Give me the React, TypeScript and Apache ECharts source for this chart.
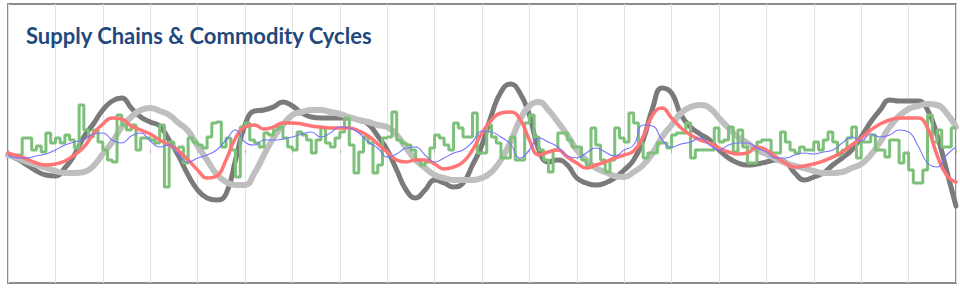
import React, { useEffect, useRef } from "react";
import * as echarts from "echarts";

// x positions: 0..200 units, smooth series sampled every 2 units, step series every 1 unit
const TITLE = "Supply Chains & Commodity Cycles";
const STEP_SMOOTH = 2;

const darkGray = [
  -5, -9, -15, -21, -25, -26, -18, -5, 13, 26, 40, 49, 52, 42, 33, 28, 24, 10, -6, -25,
  -40, -48, -50, -44, -10, 25, 39, 40, 43, 48, 44, 37, 33, 32, 32, 32, 32, 30, 26, 14,
  0, -20, -40, -48, -40, -30, -33, -37, -33, -15, 5, 35, 58, 66, 57, 35, 0, -12, -10, -15,
  -28, -33, -35, -33, -28, -20, -10, 10, 42, 62, 57, 35, 23, 16, 10, 0, -8, -13, -15, -14,
  -12, -10, -12, -23, -30, -27, -23, -15, -8, 0, 13, 28, 40, 50, 49, 49, 49, 40, 15, -20,
  -56,
];

const lightGray = [
  -5, -8, -12, -15, -18, -21, -23, -23, -22, -16, -4, 8, 23, 33, 40, 42, 39, 35, 27, 19,
  4, -10, -24, -32, -35, -35, -23, -5, 12, 25, 35, 38, 40, 40, 38, 36, 33, 30, 28, 25,
  23, 15, 2, -10, -18, -25, -28, -30, -30, -30, -28, -22, -10, 8, 30, 44, 48, 40, 28, 15,
  0, -10, -18, -22, -26, -27, -22, -15, -3, 13, 25, 37, 43, 45, 42, 32, 22, 13, 7, 0,
  -4, -9, -13, -16, -18, -21, -23, -23, -22, -18, -14, -5, 8, 23, 34, 41, 44, 46, 45, 37,
  23,
];

const redLine = [
  -3, -6, -9, -13, -15, -14, -11, -5, 3, 16, 26, 32, 31, 24, 20, 16, 10, 5, -1, -10,
  -20, -28, -26, -10, 12, 23, 25, 21, 23, 27, 27, 26, 24, 23, 22, 22, 22, 19, 14, 6,
  -2, -10, -12, -10, -10, -14, -19, -17, -12, 0, 17, 30, 37, 38, 31, 10, -5, -2, 0, -7,
  -13, -18, -15, -12, -8, -5, -1, 13, 35, 42, 32, 22, 15, 10, 7, 2, -2, -4, -3, 3,
  0, -7, -13, -17, -16, -14, -11, -7, -2, 5, 12, 20, 26, 30, 32, 32, 32, 22, -5, -25,
  -32,
];

const blueLine = [
  -5, -8, -8, -6, -4, 0, 5, 8, 10, 16, 17, 10, 7, 14, 17, 9, 3, 5, -5, -12,
  -8, -5, 0, 10, 20, 8, 5, 10, 10, 11, 13, 16, 18, 13, 17, 23, 22, 17, 8, 2,
  -7, -4, 2, 3, -5, -12, -8, -3, 0, 8, 19, 18, 13, 6, -8, 0, 12, 8, 3, -6,
  -8, -3, 2, -2, -6, 0, 5, 25, 24, 10, 3, 6, 8, 12, 5, 0, 5, 7, 7, 2,
  -2, -8, -8, -5, -3, -4, -2, 0, 7, 13, 9, 16, 13, 15, 20, 18, 4, -13, -17, -5,
  3,
];

const greenStep = [
  -5, -5, -5, 12, 12, 0, 4, -2, 17, 7, 12, 7, 15, 10, 2, 45, 20, 13, 20, 8,
  0, -10, -12, 35, 25, 20, 25, 0, 12, 12, 10, 7, 25, -37, 8, 0, 3, -13, 12, 8,
  5, 2, 13, 27, 28, 3, 12, 0, -27, 23, 27, 10, 7, 3, 17, 15, 20, 23, 12, 3,
  0, 18, 15, 10, -3, 10, 22, 7, 3, 12, 18, 32, 5, -23, -2, 13, 7, -23, -15, 12,
  13, 38, 10, 7, 5, 0, -10, -15, -12, 2, 15, 12, 5, 0, 27, 22, 13, 13, 37, -3,
  -3, 25, 13, 7, -8, -8, 13, -10, -10, 27, 35, 13, 0, -10, -22, 0, 17, 17, 10, 3,
  3, -10, -15, 22, 5, -10, -22, -10, 22, 12, 8, 37, 27, 7, -8, -3, -3, 7, 7, 2,
  15, 17, 17, 27, -8, 0, 0, 0, 0, 22, 8, 10, 23, -2, 20, 3, -13, -13, 8, 10,
  10, -3, -3, 18, 8, 0, -3, 3, 0, 0, 8, 0, 10, 18, 8, -5, 0, 12, 23, -8,
  8, 8, 15, 0, 0, -7, 10, 10, -13, -3, -20, -33, -33, -20, 35, 8, 20, 3, 3, 22,
];

const toXY = (arr: number[], step: number) => arr.map((v, i) => [i * step, v]);

export default function App() {
  const ref = useRef<HTMLDivElement>(null);
  useEffect(() => {
    if (!ref.current) return;
    const chart = echarts.init(ref.current, undefined, { renderer: "svg" });
    const greenData = toXY(greenStep, 1);
    greenData.push([greenStep.length, greenStep[greenStep.length - 1]]);
    chart.setOption({
      animation: false,
      backgroundColor: "#ffffff",
      title: {
        text: TITLE,
        left: 26,
        top: 24,
        padding: 0,
        textStyle: {
          fontFamily: "Lato",
          fontWeight: "bold",
          fontSize: 22,
          color: "#1F497D",
        },
      },
      grid: {
        left: 8,
        right: 4,
        top: 4,
        bottom: 5,
        show: true,
        borderColor: "#8c8c8c",
        borderWidth: 2,
        backgroundColor: "transparent",
      },
      xAxis: {
        type: "value",
        min: 0,
        max: 200,
        interval: 10,
        axisLabel: { show: false },
        axisLine: { show: false },
        axisTick: { show: true, length: 3, lineStyle: { color: "#b0b0b0" } },
        splitLine: { show: true, lineStyle: { color: "#e2e2e2", width: 1 } },
      },
      yAxis: {
        type: "value",
        min: -133,
        max: 146,
        axisLabel: { show: false },
        axisLine: { show: false },
        axisTick: { show: false },
        splitLine: { show: false },
      },
      series: [
        {
          type: "line",
          data: toXY(darkGray, STEP_SMOOTH),
          smooth: 0.5,
          showSymbol: false,
          lineStyle: { color: "#7a7a7a", width: 5, cap: "round", join: "round" },
        },
        {
          type: "line",
          data: toXY(lightGray, STEP_SMOOTH),
          smooth: 0.5,
          showSymbol: false,
          lineStyle: { color: "#bfbfbf", width: 6, cap: "round", join: "round" },
        },
        {
          type: "line",
          data: greenData,
          step: "end",
          showSymbol: false,
          lineStyle: { color: "#7cc07a", width: 3 },
        },
        {
          type: "line",
          data: toXY(redLine, STEP_SMOOTH),
          smooth: 0.5,
          showSymbol: false,
          lineStyle: { color: "#ff7474", width: 3.5, cap: "round", join: "round" },
        },
        {
          type: "line",
          data: toXY(blueLine, STEP_SMOOTH),
          smooth: 0.5,
          showSymbol: false,
          lineStyle: { color: "#7373ff", width: 1.1 },
        },
      ],
    });
    return () => chart.dispose();
  }, []);
  return (
    <div
      ref={ref}
      style={{ position: "fixed", left: 0, top: 0, width: 960, height: 288 }}
    />
  );
}
